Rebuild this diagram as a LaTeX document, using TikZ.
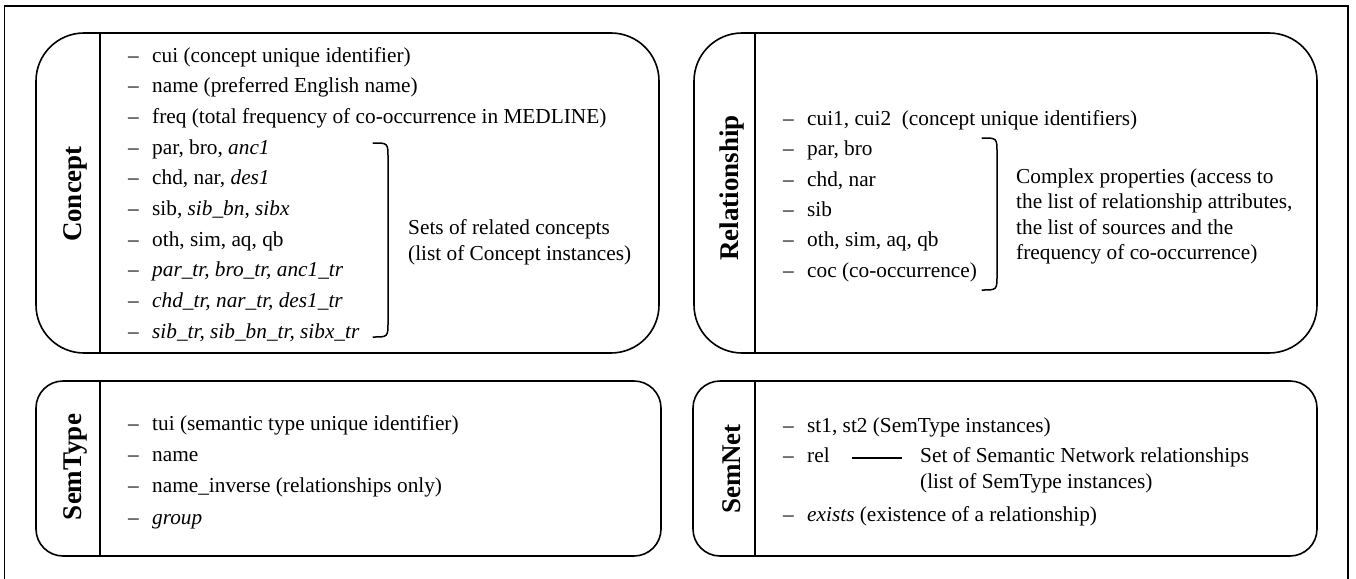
\documentclass[tikz,border=0pt]{standalone}
\usepackage{fontspec}
\setmainfont{Liberation Serif}
\begin{document}
\begin{tikzpicture}[x=1pt,y=-1pt,
  frame/.style={line width=1.3pt},
  bigbox/.style={draw, line width=1.6pt, rounded corners=48pt, inner sep=0pt},
  smallbox/.style={draw, line width=1.6pt, rounded corners=27pt, inner sep=0pt},
  divider/.style={line width=1.3pt},
  title/.style={font=\fontsize{27}{32}\selectfont\bfseries, rotate=90, inner sep=0pt},
  item/.style={anchor=west, inner sep=0pt, font=\fontsize{21.3}{25.6}\selectfont, text height=15pt, text depth=4.5pt},
  note/.style={anchor=west, inner sep=0pt, align=left, font=\fontsize{21.3}{25.6}\selectfont},
  bracket/.style={line width=1.5pt, line cap=round},
  rule/.style={line width=1.5pt}
]
\useasboundingbox (0,0) rectangle (1356,578);
% outer frame (bottom edge lies outside the picture)
\draw[frame] (4.5,582) -- (4.5,6) -- (1348,6) -- (1348,582);

% ---------- Concept ----------
\node[bigbox, minimum width=623pt, minimum height=320pt] (concept) at (347.5,193) {};
\draw[divider] (100,33) -- (100,353);
\node[title] (concepttitle) at (75,194) {Concept};
\foreach \y/\n/\t in {
  57/c1/{cui (concept unique identifier)},
  87.7/c2/{name (preferred English name)},
  118.3/c3/{freq (total frequency of co-occurrence in MEDLINE)},
  149/c4/{par, bro, \textit{anc1}},
  179.7/c5/{chd, nar, \textit{des1}},
  210.3/c6/{sib, \textit{sib\_bn}, \textit{sibx}},
  241/c7/{oth, sim, aq, qb},
  271.7/c8/{\textit{par\_tr, bro\_tr, anc1\_tr}},
  302.3/c9/{\textit{chd\_tr, nar\_tr, des1\_tr}},
  333/c10/{\textit{sib\_tr, sib\_bn\_tr, sibx\_tr}}}{
  \node[item] (\n d) at (128,\y) {–};
  \node[item] (\n) at (152,\y) {\t};
}
\draw[bracket] (373,143) .. controls (388,143) .. (388,158) -- (388,322) .. controls (388,337) .. (373,337);
\node[note] (conceptnote) at (408,242.5) {Sets of related concepts\\(list of Concept instances)};

% ---------- Relationship ----------
\node[bigbox, minimum width=623pt, minimum height=320pt] (rel) at (1005.5,193) {};
\draw[divider] (755,33) -- (755,353);
\node[title] (reltitle) at (732,188) {Relationship};
\foreach \y/\n/\t in {
  120/r1/{cui1, cui2\ \ (concept unique identifiers)},
  150.4/r2/{par, bro},
  180.8/r3/{chd, nar},
  211.2/r4/{sib},
  241.6/r5/{oth, sim, aq, qb},
  272/r6/{coc (co-occurrence)}}{
  \node[item] (\n d) at (783,\y) {–};
  \node[item] (\n) at (807,\y) {\t};
}
\draw[bracket] (982,138) .. controls (997,138) .. (997,153) -- (997,275) .. controls (997,290) .. (982,290);
\node[note] (relnote) at (1016,216.5) {Complex properties (access to\\the list of relationship attributes,\\the list of sources and the\\frequency of co-occurrence)};

% ---------- SemType ----------
\node[smallbox, minimum width=625pt, minimum height=175pt] (semtype) at (348.5,468.5) {};
\draw[divider] (100,381) -- (100,556);
\node[title] (semtypetitle) at (75,467) {SemType};
\foreach \y/\n/\t in {
  425/s1/{tui (semantic type unique identifier)},
  456/s2/{name},
  487.5/s3/{name\_inverse (relationships only)},
  519/s4/{\textit{group}}}{
  \node[item] (\n d) at (128,\y) {–};
  \node[item] (\n) at (152,\y) {\t};
}

% ---------- SemNet ----------
\node[smallbox, minimum width=624pt, minimum height=175pt] (semnet) at (1005,468.5) {};
\draw[divider] (755,381) -- (755,556);
\node[title] (semnettitle) at (732,469) {SemNet};
\node[item] (n1d) at (783,427) {–};
\node[item] (n1) at (807,427) {st1, st2 (SemType instances)};
\node[item] (n2d) at (783,457) {–};
\node[item] (n2) at (807,457) {rel};
\node[note] (semnetnote) at (920,470) {Set of Semantic Network relationships\\(list of SemType instances)};
\coordinate (ruleA) at (852,458);
\coordinate (ruleB) at (902,458);
\draw[rule] (ruleA) -- (ruleB);
\node[item] (n3d) at (783,516) {–};
\node[item] (n3) at (807,516) {\textit{exists} (existence of a relationship)};
\end{tikzpicture}
\end{document}
